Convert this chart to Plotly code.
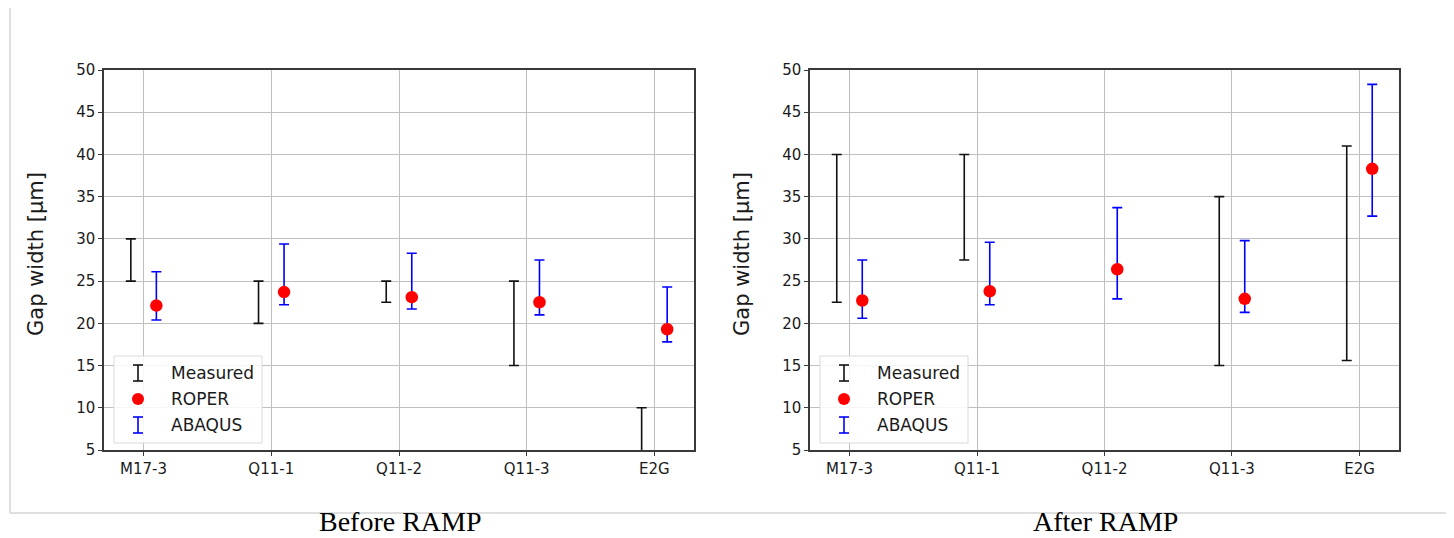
import plotly.graph_objects as go

# ---------------- data ----------------
categories = ["M17-3", "Q11-1", "Q11-2", "Q11-3", "E2G"]

before_measured_low = [25.0, 20.0, 22.5, 15.0, 0.0]
before_measured_high = [30.0, 25.0, 25.0, 25.0, 10.0]
before_roper = [22.1, 23.7, 23.1, 22.5, 19.3]
before_abaqus_low = [20.4, 22.2, 21.7, 21.0, 17.8]
before_abaqus_high = [26.1, 29.4, 28.3, 27.5, 24.3]

after_measured_low = [22.5, 27.5, None, 15.0, 15.6]
after_measured_high = [40.0, 40.0, None, 35.0, 41.0]
after_roper = [22.7, 23.8, 26.4, 22.9, 38.3]
after_abaqus_low = [20.6, 22.2, 22.9, 21.3, 32.7]
after_abaqus_high = [27.5, 29.6, 33.7, 29.8, 48.3]

panel_titles = ["Before RAMP", "After RAMP"]
legend_labels = ["Measured", "ROPER", "ABAQUS"]
y_ticks = [5, 10, 15, 20, 25, 30, 35, 40, 45, 50]

# ---------------- layout helpers ----------------
PAGE_OFF = 8  # browser body margin
W, H = 1454 - PAGE_OFF, 538 - PAGE_OFF


def px(x):
    return (x - PAGE_OFF) / W


def py(y):
    return 1 - (y - PAGE_OFF) / H


TXT = "#1a1a1a"
FONT = "DejaVu Sans"
OFFSET = 0.1

fig = go.Figure()

panels = [
    (before_measured_low, before_measured_high, before_roper, before_abaqus_low, before_abaqus_high),
    (after_measured_low, after_measured_high, after_roper, after_abaqus_low, after_abaqus_high),
]
axes = [("x", "y"), ("x2", "y2")]

for (m_lo, m_hi, rop, a_lo, a_hi), (xa, ya) in zip(panels, axes):
    idx = list(range(len(categories)))
    # measured ranges
    mx, my, mplus, mminus = [], [], [], []
    for i, lo, hi in zip(idx, m_lo, m_hi):
        if lo is None or hi is None:
            continue
        mx.append(i - OFFSET)
        my.append(hi)
        mplus.append(0)
        mminus.append(hi - lo)
    fig.add_trace(go.Scatter(
        x=mx, y=my, mode="markers", xaxis=xa, yaxis=ya, showlegend=False,
        marker=dict(size=0.1, color="rgba(0,0,0,0)"),
        error_y=dict(type="data", symmetric=False, array=mplus, arrayminus=mminus,
                     color="#111111", thickness=1.6, width=5),
    ))
    # ABAQUS ranges
    ax_ = [i + OFFSET for i in idx]
    fig.add_trace(go.Scatter(
        x=ax_, y=rop, mode="markers", xaxis=xa, yaxis=ya, showlegend=False,
        marker=dict(size=0.1, color="rgba(0,0,0,0)"),
        error_y=dict(type="data", symmetric=False,
                     array=[h - r for h, r in zip(a_hi, rop)],
                     arrayminus=[r - l for l, r in zip(a_lo, rop)],
                     color="#0000ff", thickness=1.6, width=5),
    ))
    # ROPER points
    fig.add_trace(go.Scatter(
        x=ax_, y=rop, mode="markers", xaxis=xa, yaxis=ya, showlegend=False,
        marker=dict(size=12.5, color="#ff0000", line=dict(width=0)),
    ))

# panel positions (page pixels)
x_domains = [(104, 694), (810, 1399)]
y_top, y_bot = 70, 450

axis_common = dict(
    showline=True, mirror=True, linecolor="#3a3a3a", linewidth=1.5,
    showgrid=True, gridcolor="#c0c0c0", gridwidth=1.2,
    ticks="outside", ticklen=4, tickcolor="#3a3a3a", tickwidth=1,
    tickfont=dict(family=FONT, size=15, color=TXT), zeroline=False,
    automargin=False,
)

layout = dict(
    width=W, height=H, margin=dict(l=0, r=0, t=0, b=0, pad=0, autoexpand=False),
    paper_bgcolor="white", plot_bgcolor="white", showlegend=False,
)
for k, (x0, x1) in enumerate(x_domains):
    sfx = "" if k == 0 else str(k + 1)
    layout["xaxis" + sfx] = dict(
        axis_common, domain=[px(x0), px(x1)], range=[-0.31, 4.31],
        tickvals=list(range(len(categories))), ticktext=categories,
        anchor="y" + sfx,
    )
    layout["yaxis" + sfx] = dict(
        axis_common, domain=[py(y_bot), py(y_top)], range=[5, 50],
        tickvals=y_ticks, anchor="x" + sfx,
    )
fig.update_layout(**layout)

shapes = []
annotations = []

# figure border (light grey)
shapes.append(dict(type="line", xref="paper", yref="paper", x0=px(10), x1=px(10),
                   y0=py(8), y1=py(513), line=dict(color="#d4d4d4", width=1.5)))
shapes.append(dict(type="line", xref="paper", yref="paper", x0=px(10), x1=px(1454),
                   y0=py(513), y1=py(513), line=dict(color="#d4d4d4", width=1.5)))

for k, (x0, x1) in enumerate(x_domains):
    # y-axis title
    annotations.append(dict(
        text="Gap width [µm]", xref="paper", yref="paper",
        x=px(x0 - 68), y=py(254), textangle=-90,
        showarrow=False, font=dict(family=FONT, size=21, color=TXT),
        xanchor="center", yanchor="middle",
    ))
    # legend box
    lx0, lx1 = x0 + 10, x0 + 158
    ly0, ly1 = 356, 443
    shapes.append(dict(type="rect", xref="paper", yref="paper", layer="above",
                       x0=px(lx0), x1=px(lx1), y0=py(ly1), y1=py(ly0),
                       line=dict(color="#d9d9d9", width=1),
                       fillcolor="rgba(255,255,255,0.85)"))
    icx = x0 + 34
    rows = [373, 399, 425]
    colors = ["#111111", "#ff0000", "#0000ff"]
    for label, ry, c in zip(legend_labels, rows, colors):
        if label == "ROPER":
            shapes.append(dict(type="circle", xref="paper", yref="paper", layer="above",
                               x0=px(icx - 6), x1=px(icx + 6), y0=py(ry + 6), y1=py(ry - 6),
                               fillcolor=c, line=dict(width=0)))
        else:
            shapes.append(dict(type="line", xref="paper", yref="paper", layer="above",
                               x0=px(icx), x1=px(icx), y0=py(ry - 8), y1=py(ry + 8),
                               line=dict(color=c, width=1.6)))
            for cy in (ry - 8, ry + 8):
                shapes.append(dict(type="line", xref="paper", yref="paper", layer="above",
                                   x0=px(icx - 5), x1=px(icx + 5), y0=py(cy), y1=py(cy),
                                   line=dict(color=c, width=1.6)))
        annotations.append(dict(
            text=label, xref="paper", yref="paper", x=px(x0 + 65), y=py(ry),
            xanchor="left", yanchor="middle", showarrow=False,
            font=dict(family=FONT, size=17, color=TXT),
        ))
    # caption below panel
    annotations.append(dict(
        text=panel_titles[k], xref="paper", yref="paper",
        x=px([400, 1105][k]), y=py(521), xanchor="center", yanchor="middle",
        showarrow=False, font=dict(family="Liberation Serif", size=28, color="#000000"),
    ))

fig.update_layout(shapes=shapes, annotations=annotations)
fig.write_html("out.html")
